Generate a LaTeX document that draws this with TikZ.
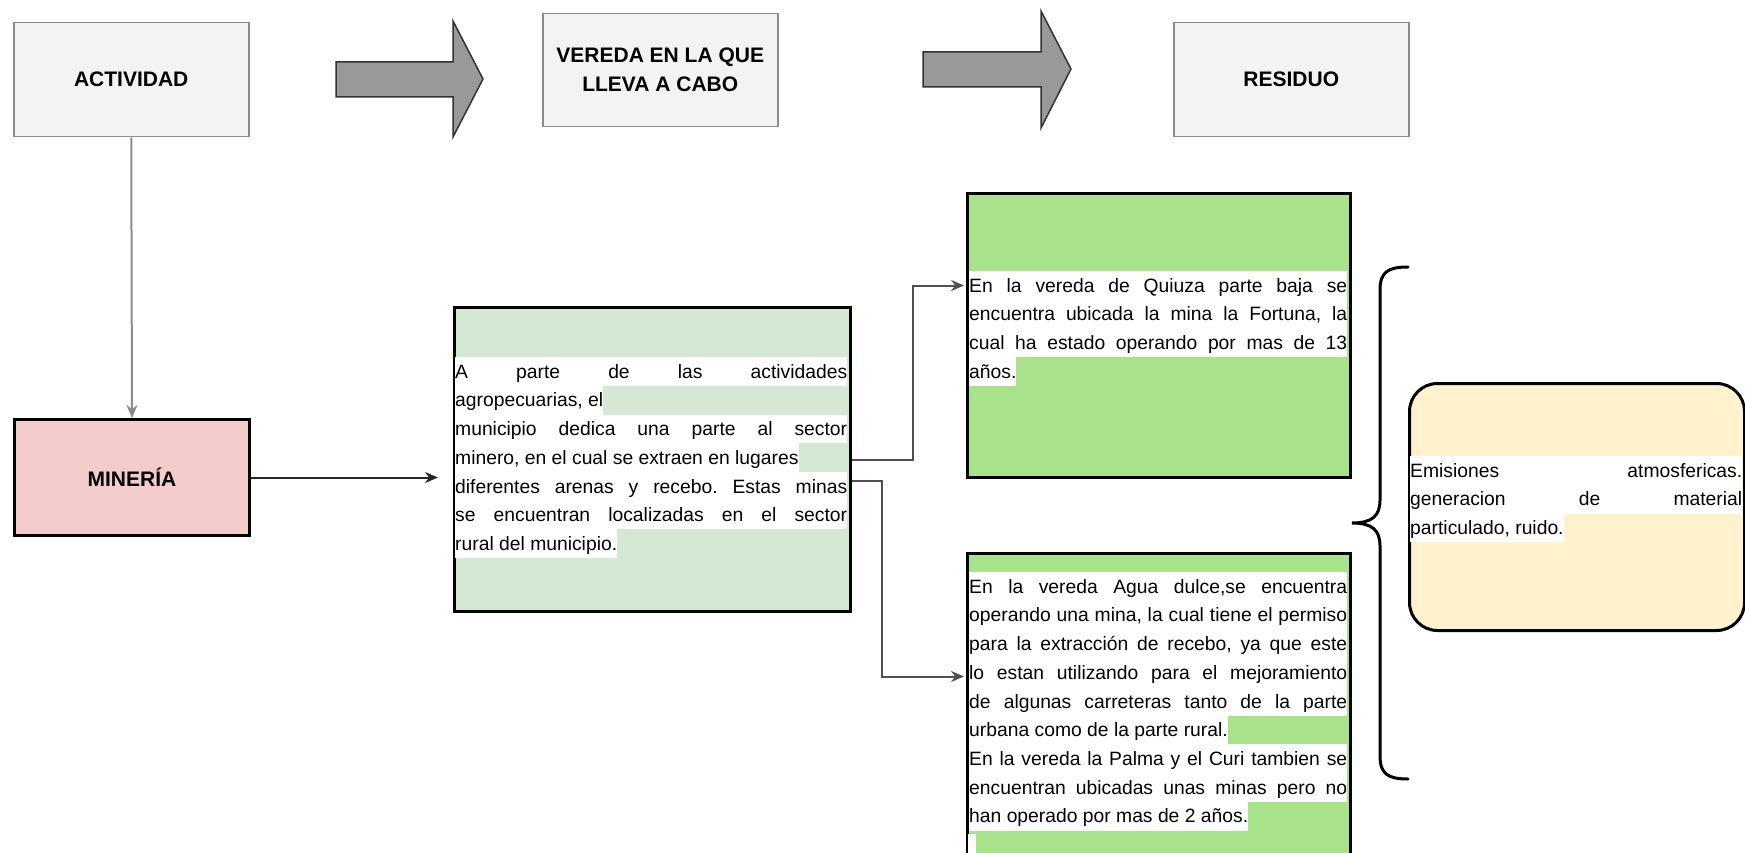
\documentclass[tikz,border=0pt]{standalone}
\usepackage{fontspec}
\setmainfont{Liberation Sans}
\usetikzlibrary{arrows.meta}
\definecolor{hdrfill}{HTML}{F3F3F3}
\definecolor{hdrline}{HTML}{8C8C8C}
\definecolor{pinkfill}{HTML}{F4CCCC}
\definecolor{palegreen}{HTML}{D5E8D4}
\definecolor{limegreen}{HTML}{A8E28A}
\definecolor{cream}{HTML}{FFF2CC}
\definecolor{arrowgray}{HTML}{999999}
\definecolor{conngray}{HTML}{505050}
\setlength{\fboxsep}{0pt}
\frenchspacing
\newlength\lw
\newcommand\hlJ[1]{\hbox{\colorbox{white}{\makebox[\lw][s]{\rule[-7.7pt]{0pt}{28.7pt}#1}}}}
\newcommand\hlP[1]{\hbox{\colorbox{white}{\rule[-7.7pt]{0pt}{28.7pt}#1}}}
\begin{document}
\begin{tikzpicture}[x=1pt,y=-1pt,
  hdr/.style={draw=hdrline, fill=hdrfill, line width=1.5pt, minimum width=235pt, minimum height=114pt, inner sep=0pt, anchor=north west, font=\bfseries\fontsize{21}{29}\selectfont, align=center},
  bigbox/.style={draw=black, line width=3pt, inner sep=0pt, anchor=north west},
  txt/.style={inner sep=0pt, anchor=north west, font=\frenchspacing\fontsize{19.3}{28.7}\selectfont},
  conn/.style={draw=conngray, line width=2pt, -{Stealth[length=13pt,width=11pt,fill=black]}},
  blockarrow/.style={fill=arrowgray, draw=black!80, line width=1.5pt, line join=miter}
]
\useasboundingbox (0,0) rectangle (1745,853);
\clip (0,0) rectangle (1745,853);

% header boxes
\node[hdr] (act) at (13,22) {ACTIVIDAD};
\node[hdr, minimum height=113pt] (ver) at (542,13) {VEREDA EN LA QUE\\LLEVA A CABO};
\node[hdr] (res) at (1173,22) {RESIDUO};

% block arrows
\path[blockarrow] (336,62) -- (453,62) -- (453,21) -- (483,79) -- (453,137) -- (453,97) -- (336,97) -- cycle;
\path[blockarrow] (923,52) -- (1041,52) -- (1041,11) -- (1071,69) -- (1041,128) -- (1041,87) -- (923,87) -- cycle;

% main boxes
\node[bigbox, fill=pinkfill, minimum width=235pt, minimum height=116pt, font=\bfseries\fontsize{21}{25}\selectfont] (min) at (13,418) {MINERÍA};
\node[bigbox, fill=palegreen, minimum width=396pt, minimum height=304pt] (box1) at (453,306) {};
\node[bigbox, fill=limegreen, minimum width=383pt, minimum height=284pt] (box2) at (966,192) {};
\node[bigbox, fill=limegreen, minimum width=383pt, minimum height=330pt] (box3) at (966,552) {};
\node[bigbox, fill=cream, rounded corners=28pt, minimum width=335pt, minimum height=247pt] (box4) at (1408,382) {};

% texts
\node[txt] (t1) at (455,357) {\setlength\lw{392pt}\vbox{\offinterlineskip
\hlJ{A parte de las actividades}
\hlP{agropecuarias, el}
\hlJ{municipio dedica una parte al sector}
\hlP{minero, en el cual se extraen en lugares}
\hlJ{diferentes arenas y recebo. Estas minas}
\hlJ{se encuentran localizadas en el sector}
\hlP{rural del municipio.}}};

\node[txt] (t2) at (969,271) {\setlength\lw{378pt}\vbox{\offinterlineskip
\hlJ{En la vereda de Quiuza parte baja se}
\hlJ{encuentra ubicada la mina la Fortuna, la}
\hlJ{cual ha estado operando por mas de 13}
\hlP{años.}}};

\node[txt] (t3) at (969,572) {\setlength\lw{378pt}\vbox{\offinterlineskip
\hlJ{En la vereda Agua dulce,se encuentra}
\hlJ{operando una mina, la cual tiene el permiso}
\hlJ{para la extracción de recebo, ya que este}
\hlJ{lo estan utilizando para el mejoramiento}
\hlJ{de algunas carreteras tanto de la parte}
\hlP{urbana como de la parte rural.}
\hlJ{En la vereda la Palma y el Curi tambien se}
\hlJ{encuentran ubicadas unas minas pero no}
\hlP{han operado por mas de 2 años.}}};
\fill[white] (968,834) rectangle (976,853);

\node[txt] (t4) at (1410,456) {\setlength\lw{332pt}\vbox{\offinterlineskip
\hlJ{Emisiones atmosfericas.}
\hlJ{generacion de material}
\hlP{particulado, ruido.}}};

% brace
\draw[line width=3pt, line cap=round] (1408,267) .. controls (1388,267) and (1380,272) .. (1380,290) -- (1380,500) .. controls (1380,516) and (1372,523) .. (1352,523) .. controls (1372,523) and (1380,530) .. (1380,546) -- (1380,756) .. controls (1380,774) and (1388,779) .. (1408,779);

% connectors
\draw[conn, draw=hdrline] (act.south) -- (min.north);
\draw[conn, draw=black!85, shorten >=15pt] (min.east) -- (min.east -| box1.west);
\draw[conn, shorten >=2pt] (box1.east) -- ++(61,0) |- ([yshift=50pt]box2.west);
\draw[conn, shorten >=2pt] ([yshift=-21pt]box1.east) -- ++(30,0) |- ([yshift=42pt]box3.west);
\end{tikzpicture}
\end{document}
